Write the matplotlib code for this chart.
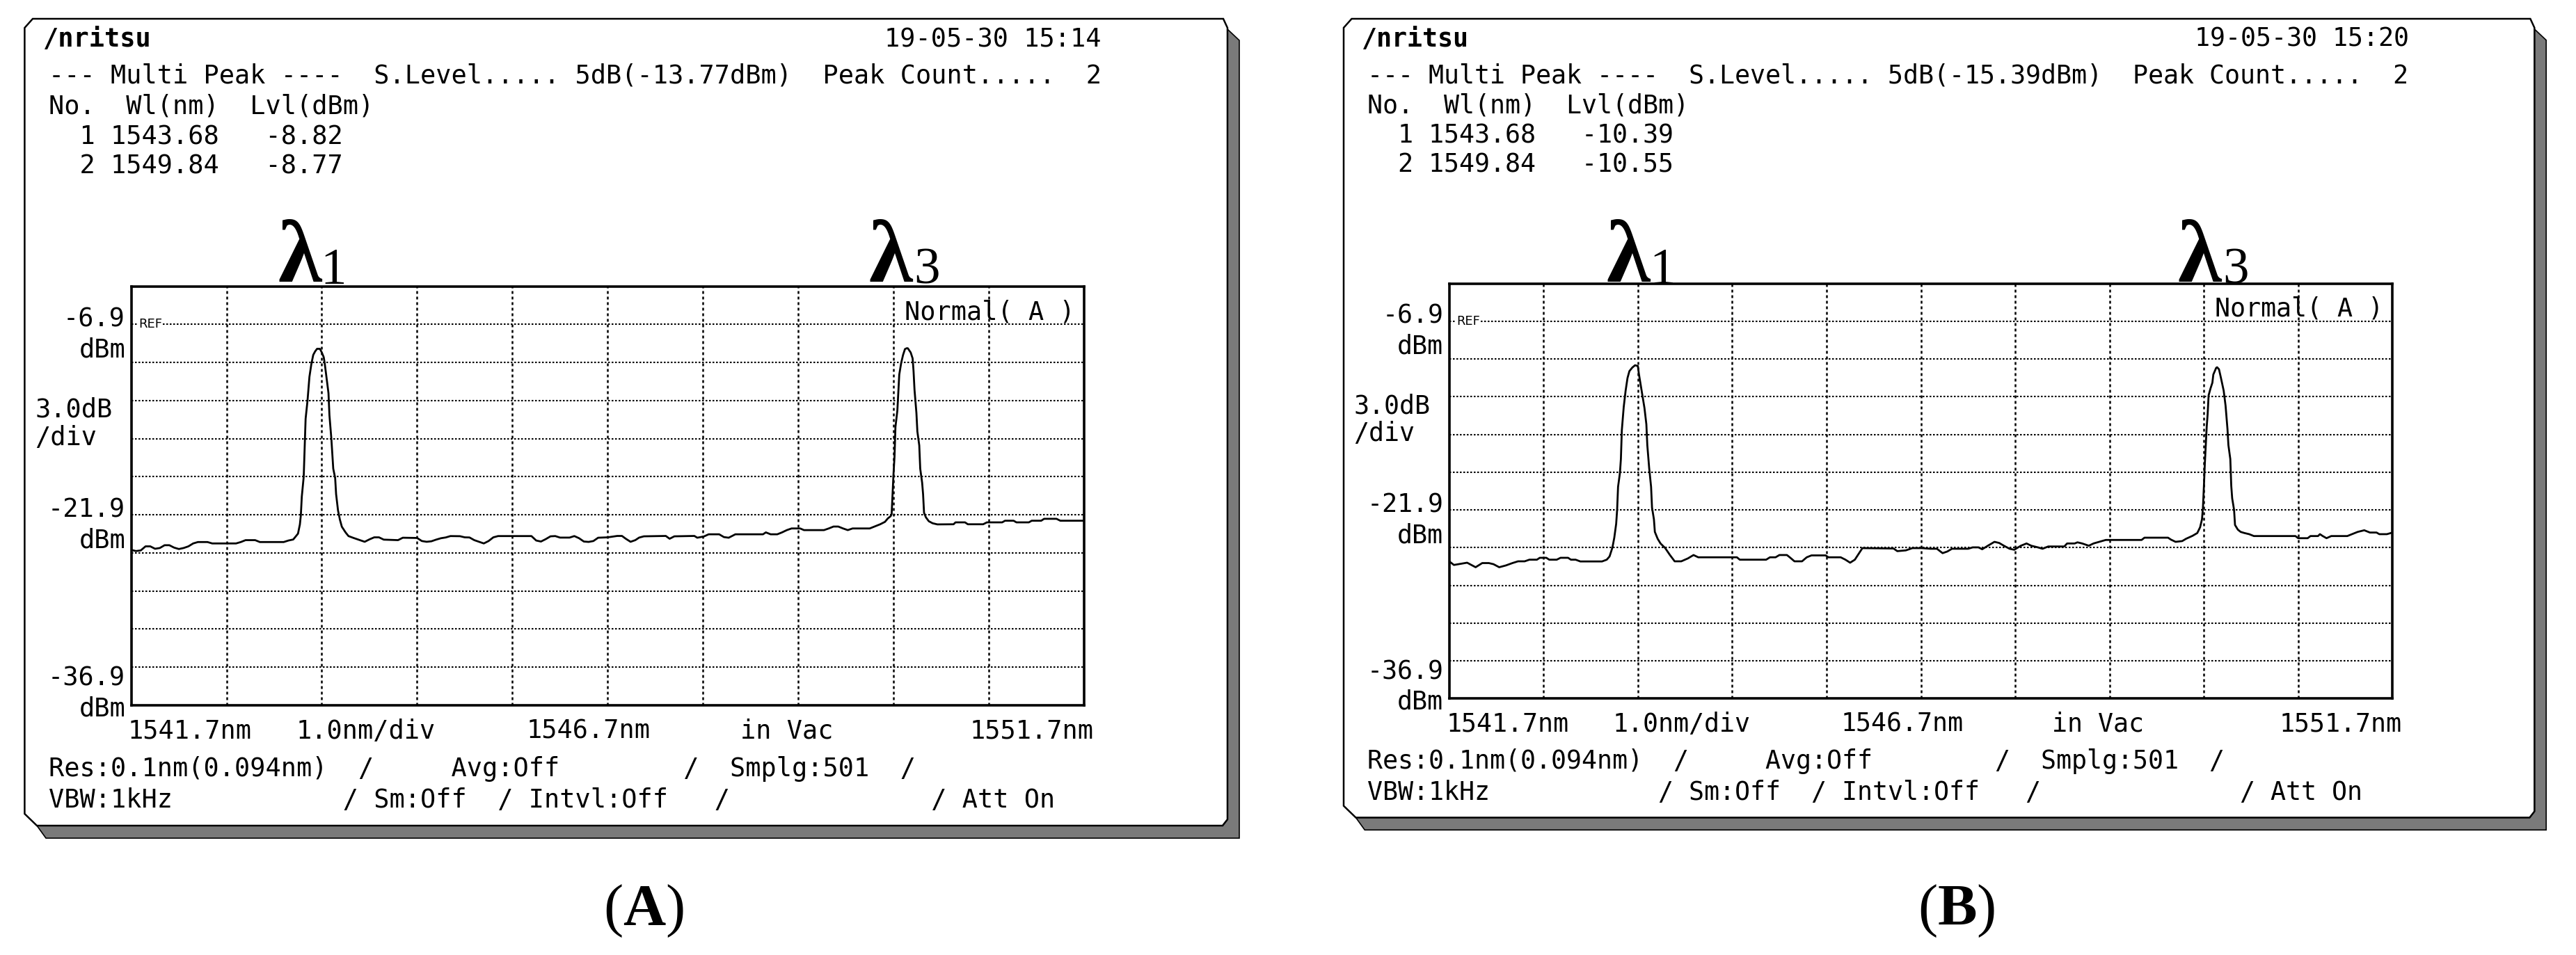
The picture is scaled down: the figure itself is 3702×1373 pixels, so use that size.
import matplotlib
matplotlib.use("Agg")
import matplotlib.pyplot as plt
from matplotlib.patches import Polygon

plt.rcParams['mathtext.fontset'] = 'custom'
plt.rcParams['mathtext.rm'] = 'Liberation Serif'
plt.rcParams['mathtext.bf'] = 'Liberation Serif:bold'

W, H, DPI = 3702, 1373, 100
MONO = 'DejaVu Sans Mono'
SERIF = 'Liberation Serif'

# ---------------- data ----------------
start_wl, stop_wl, nm_per_div = 1541.7, 1551.7, 1.0
ref_level, db_per_div, n_div = -6.9, 3.0, 10

dates = ["19-05-30 15:14", "19-05-30 15:20"]
search_levels = ["5dB(-13.77dBm)", "5dB(-15.39dBm)"]
peak_no = ["1", "2"]
peak_wl_A = ["1543.68", "1549.84"]
peak_lvl_A = ["-8.82", "-8.77"]
peak_wl_B = ["1543.68", "1549.84"]
peak_lvl_B = ["-10.39", "-10.55"]
x_labels = ["1541.7nm", "1.0nm/div", "1546.7nm", "in Vac", "1551.7nm"]
y_labels = ["-6.9", "dBm", "3.0dB", "/div", "-21.9", "dBm", "-36.9", "dBm"]
captions = ["A", "B"]

wavelength_A = [
    1541.70, 1541.75, 1541.80, 1541.85, 1541.90, 1541.95, 1542.00, 1542.05, 1542.10, 1542.15,
    1542.20, 1542.25, 1542.30, 1542.35, 1542.40, 1542.50, 1542.55, 1542.80, 1542.85, 1542.90,
    1543.00, 1543.05, 1543.30, 1543.35, 1543.40, 1543.45, 1543.47, 1543.48, 1543.49, 1543.51,
    1543.52, 1543.53, 1543.55, 1543.57, 1543.59, 1543.61, 1543.63, 1543.65, 1543.68, 1543.70,
    1543.72, 1543.73, 1543.75, 1543.77, 1543.78, 1543.80, 1543.82, 1543.84, 1543.85, 1543.87,
    1543.89, 1543.91, 1543.95, 1543.98, 1544.03, 1544.08, 1544.15, 1544.20, 1544.25, 1544.30,
    1544.35, 1544.50, 1544.55, 1544.70, 1544.75, 1544.80, 1544.85, 1544.90, 1544.95, 1545.00,
    1545.05, 1545.15, 1545.20, 1545.25, 1545.30, 1545.35, 1545.40, 1545.45, 1545.50, 1545.55,
    1545.90, 1545.95, 1546.00, 1546.05, 1546.10, 1546.15, 1546.20, 1546.30, 1546.35, 1546.40,
    1546.45, 1546.50, 1546.55, 1546.60, 1546.70, 1546.80, 1546.85, 1546.89, 1546.94, 1546.99,
    1547.03, 1547.08, 1547.31, 1547.35, 1547.40, 1547.61, 1547.64, 1547.71, 1547.76, 1547.87,
    1547.92, 1547.97, 1548.04, 1548.33, 1548.36, 1548.41, 1548.48, 1548.53, 1548.58, 1548.63,
    1548.72, 1548.76, 1548.97, 1549.02, 1549.07, 1549.12, 1549.17, 1549.22, 1549.27, 1549.45,
    1549.50, 1549.56, 1549.61, 1549.64, 1549.67, 1549.68, 1549.69, 1549.70, 1549.71, 1549.72,
    1549.74, 1549.75, 1549.76, 1549.78, 1549.80, 1549.82, 1549.84, 1549.85, 1549.88, 1549.90,
    1549.91, 1549.92, 1549.94, 1549.95, 1549.97, 1549.98, 1550.00, 1550.01, 1550.02, 1550.04,
    1550.07, 1550.11, 1550.16, 1550.33, 1550.35, 1550.45, 1550.48, 1550.64, 1550.68, 1550.84,
    1550.87, 1550.96, 1550.99, 1551.12, 1551.15, 1551.25, 1551.28, 1551.41, 1551.45, 1551.70,
]
level_A = [
    -24.66, -24.75, -24.70, -24.38, -24.38, -24.57, -24.51, -24.29, -24.29, -24.48,
    -24.59, -24.51, -24.38, -24.15, -24.04, -24.04, -24.15, -24.15, -24.04, -23.89,
    -23.89, -24.04, -24.04, -23.92, -23.84, -23.38, -22.65, -21.92, -20.46, -18.90,
    -16.61, -14.33, -12.90, -11.03, -10.03, -9.30, -9.02, -8.82, -8.82, -9.11,
    -9.48, -9.94, -11.13, -12.31, -14.05, -15.88, -18.26, -18.99, -20.27, -21.55,
    -22.28, -22.83, -23.29, -23.57, -23.71, -23.84, -24.02, -23.83, -23.67, -23.67,
    -23.85, -23.89, -23.70, -23.72, -23.96, -24.02, -23.98, -23.85, -23.74, -23.68,
    -23.57, -23.58, -23.67, -23.68, -23.89, -24.02, -24.15, -23.96, -23.67, -23.57,
    -23.57, -23.92, -24.00, -23.81, -23.59, -23.57, -23.69, -23.69, -23.57, -23.74,
    -24.00, -24.03, -23.96, -23.70, -23.67, -23.56, -23.56, -23.78, -24.02, -23.89,
    -23.69, -23.59, -23.56, -23.78, -23.59, -23.56, -23.70, -23.60, -23.43, -23.43,
    -23.65, -23.70, -23.43, -23.43, -23.28, -23.43, -23.43, -23.28, -23.10, -22.97,
    -22.97, -23.10, -23.10, -22.97, -22.82, -22.82, -22.97, -23.10, -22.97, -22.97,
    -22.82, -22.64, -22.45, -22.18, -22.00, -21.83, -20.27, -18.63, -17.35, -14.97,
    -13.69, -12.22, -10.85, -9.94, -9.30, -8.84, -8.77, -8.78, -9.11, -9.57,
    -10.58, -12.04, -13.87, -15.33, -16.43, -18.26, -19.36, -20.27, -21.73, -22.10,
    -22.40, -22.56, -22.65, -22.64, -22.49, -22.49, -22.64, -22.64, -22.49, -22.49,
    -22.36, -22.36, -22.49, -22.49, -22.36, -22.36, -22.21, -22.21, -22.36, -22.36,
]

wavelength_B = [
    1541.70, 1541.75, 1541.89, 1541.98, 1542.05, 1542.12, 1542.17, 1542.23, 1542.30, 1542.37,
    1542.43, 1542.50, 1542.55, 1542.63, 1542.66, 1542.73, 1542.76, 1542.84, 1542.88, 1542.96,
    1542.99, 1543.04, 1543.09, 1543.32, 1543.37, 1543.40, 1543.43, 1543.45, 1543.47, 1543.48,
    1543.49, 1543.51, 1543.52, 1543.53, 1543.55, 1543.57, 1543.59, 1543.61, 1543.64, 1543.67,
    1543.70, 1543.71, 1543.73, 1543.75, 1543.77, 1543.79, 1543.80, 1543.82, 1543.84, 1543.85,
    1543.87, 1543.88, 1543.91, 1543.94, 1543.99, 1544.04, 1544.09, 1544.16, 1544.23, 1544.29,
    1544.34, 1544.75, 1544.78, 1545.06, 1545.10, 1545.16, 1545.20, 1545.28, 1545.31, 1545.36,
    1545.44, 1545.49, 1545.54, 1545.69, 1545.72, 1545.85, 1545.90, 1545.95, 1546.00, 1546.08,
    1546.41, 1546.45, 1546.54, 1546.61, 1546.71, 1546.80, 1546.87, 1546.93, 1546.98, 1547.03,
    1547.20, 1547.25, 1547.31, 1547.35, 1547.41, 1547.48, 1547.53, 1547.58, 1547.64, 1547.69,
    1547.76, 1547.82, 1547.87, 1547.94, 1547.99, 1548.05, 1548.22, 1548.25, 1548.33, 1548.36,
    1548.41, 1548.48, 1548.53, 1548.59, 1548.66, 1549.04, 1549.07, 1549.32, 1549.35, 1549.40,
    1549.47, 1549.51, 1549.58, 1549.63, 1549.66, 1549.68, 1549.69, 1549.70, 1549.71, 1549.72,
    1549.73, 1549.74, 1549.75, 1549.77, 1549.79, 1549.80, 1549.83, 1549.84, 1549.86, 1549.88,
    1549.91, 1549.93, 1549.95, 1549.96, 1549.98, 1549.99, 1550.00, 1550.02, 1550.03, 1550.06,
    1550.09, 1550.13, 1550.18, 1550.23, 1550.67, 1550.70, 1550.80, 1550.83, 1550.91, 1550.93,
    1550.96, 1551.00, 1551.05, 1551.22, 1551.27, 1551.33, 1551.40, 1551.46, 1551.53, 1551.56,
    1551.64, 1551.70,
]
level_B = [
    -25.99, -26.28, -26.10, -26.46, -26.13, -26.13, -26.22, -26.46, -26.32, -26.13,
    -25.99, -25.99, -25.86, -25.86, -25.71, -25.71, -25.86, -25.86, -25.71, -25.71,
    -25.86, -25.86, -26.00, -26.00, -25.86, -25.60, -24.90, -24.11, -23.00, -21.90,
    -20.06, -18.95, -17.85, -15.55, -13.71, -12.42, -11.41, -10.86, -10.58, -10.39,
    -10.45, -11.04, -11.96, -12.88, -13.80, -15.09, -16.75, -18.59, -20.06, -21.72,
    -22.64, -23.65, -24.20, -24.57, -24.94, -25.49, -25.99, -25.99, -25.76, -25.49,
    -25.67, -25.67, -25.86, -25.86, -25.67, -25.67, -25.49, -25.49, -25.67, -25.99,
    -25.99, -25.67, -25.52, -25.52, -25.67, -25.67, -25.86, -26.10, -25.86, -24.94,
    -24.97, -25.18, -25.12, -24.94, -24.94, -24.99, -24.99, -25.34, -25.21, -24.99,
    -24.99, -24.88, -24.88, -25.03, -24.75, -24.44, -24.53, -24.75, -24.99, -25.07,
    -24.75, -24.57, -24.75, -24.88, -24.99, -24.81, -24.81, -24.57, -24.57, -24.48,
    -24.57, -24.75, -24.57, -24.44, -24.29, -24.29, -24.11, -24.11, -24.26, -24.44,
    -24.38, -24.20, -23.96, -23.74, -23.28, -22.64, -21.72, -20.06, -18.22, -16.75,
    -15.27, -14.26, -12.79, -12.24, -11.78, -11.13, -10.60, -10.55, -10.71, -11.37,
    -12.42, -13.62, -15.46, -16.75, -17.85, -19.97, -20.98, -21.90, -23.10, -23.47,
    -23.65, -23.74, -23.83, -23.98, -23.98, -24.15, -24.15, -23.98, -23.98, -23.83,
    -23.98, -24.15, -23.98, -23.98, -23.83, -23.65, -23.52, -23.70, -23.70, -23.83,
    -23.83, -23.70,
]

# ---------------- figure ----------------
fig = plt.figure(figsize=(W / DPI, H / DPI), dpi=DPI)
fig.patch.set_facecolor('white')
bg = fig.add_axes([0, 0, 1, 1])
bg.set_xlim(0, W)
bg.set_ylim(H, 0)
bg.axis('off')

COL0 = 69.6      # x of first text column (panel-A space)
PITCH = 22.24    # character pitch in px


def draw_panel(ox, s, date, slevel, pwl, plvl, wl, lvl, lam_pos, cap_x):
    fx = lambda x: ox + (x - 35.4) * s
    fy = lambda y: 27 + (y - 27) * s
    fs = 26.6 * s

    # frame shadow + frame
    shadow = [(1764, 42), (1781, 58), (1781, 1205), (66, 1205), (53, 1187),
              (1757, 1187), (1764, 1178)]
    bg.add_patch(Polygon([(fx(x), fy(y)) for x, y in shadow], closed=True,
                         facecolor='#7a7a7a', edgecolor='black', lw=1.2, zorder=1))
    frame = [(35.4, 40), (47, 27), (1758, 27), (1764, 40), (1764, 1178),
             (1757, 1187), (53, 1187), (35.4, 1170)]
    bg.add_patch(Polygon([(fx(x), fy(y)) for x, y in frame], closed=True,
                         facecolor='white', edgecolor='black', lw=1.8, zorder=2))

    def txt(col, y, t, **kw):
        bg.text(fx(COL0 + col * PITCH), fy(y), t, fontsize=fs, family=MONO,
                ha='left', va='baseline', zorder=5, **kw)

    # header
    bg.text(fx(62), fy(67), "/nritsu", fontsize=fs, family=MONO,
            fontweight='bold', ha='left', va='baseline', zorder=5)
    txt(54, 67, date)
    txt(0, 120, f"--- Multi Peak ----  S.Level..... {slevel}  Peak Count.....  {len(pwl)}")
    txt(0, 164, "No.  Wl(nm)  Lvl(dBm)")
    for i, (n, w, l) in enumerate(zip(peak_no, pwl, plvl)):
        txt(0, 207 + 43 * i, f"  {n} {w}   {l}")

    # footer
    txt(0, 1116, "Res:0.1nm(0.094nm)" + "  /" + " " * 5 + "Avg:Off" + " " * 8 + "/"
        + "  " + "Smplg:501" + "  /")
    txt(0, 1161, "VBW:1kHz" + " " * 11 + "/ Sm:Off  / Intvl:Off   /" + " " * 13 + "/ Att On")

    # x labels
    for xpos, lab in zip([184, 426, 757, 1064, 1394], x_labels):
        bg.text(fx(xpos), fy(1062), lab, fontsize=fs, family=MONO,
                ha='left', va='baseline', zorder=5)
    # y labels
    ypos = [469, 513, 600, 640, 744, 788, 986, 1030]
    for yy, lab in zip(ypos, y_labels):
        if lab in ("3.0dB", "/div"):
            bg.text(fx(50), fy(yy), lab, fontsize=fs, family=MONO,
                    ha='left', va='baseline', zorder=5)
        else:
            bg.text(fx(180), fy(yy), lab, fontsize=fs, family=MONO,
                    ha='right', va='baseline', zorder=5)

    # data axes
    L, R, T, B = fx(188.6), fx(1558), fy(411.7), fy(1014)
    ax = fig.add_axes([L / W, 1 - B / H, (R - L) / W, (B - T) / H])
    ax.set_zorder(3)
    ax.set_xlim(start_wl, stop_wl)
    ax.set_ylim(ref_level - n_div * db_per_div, ref_level + db_per_div)
    ax.set_xticks([start_wl + k * nm_per_div for k in range(1, 10)])
    ax.set_yticks([ref_level - k * db_per_div for k in range(0, n_div)])
    ax.tick_params(length=0, labelbottom=False, labelleft=False)
    ax.grid(axis='y', color='black', lw=1.5, ls=(0, (1.2, 1.2)))
    ax.grid(axis='x', color='black', lw=1.8, ls=(0, (1.6, 1.6)))
    for sp in ax.spines.values():
        sp.set_linewidth(2.6)
    ax.plot(wl, lvl, color='black', lw=2.0, zorder=4)

    ax.text(fx(199), fy(471), "REF", fontsize=13 * s, family='DejaVu Sans',
            ha='left', va='baseline', transform=bg.transData, zorder=6,
            bbox=dict(facecolor='white', edgecolor='none', pad=1))
    ax.text(fx(1300), fy(459), "Normal( A )", fontsize=fs, family=MONO,
            ha='left', va='baseline', transform=bg.transData, zorder=6)

    # lambda labels (figure pixel coords)
    for (lx, sx, sub) in lam_pos:
        bg.text(lx, 404, "λ", fontsize=92, family=SERIF, fontweight='bold',
                ha='left', va='baseline', zorder=6)
        bg.text(sx, 408, sub, fontsize=54, family=SERIF, ha='left',
                va='baseline', zorder=6)


draw_panel(35.4, 1.0, dates[0], search_levels[0], peak_wl_A, peak_lvl_A,
           wavelength_A, level_A, [(399, 460, "1"), (1248, 1313, "3")], 925)
draw_panel(1931, 0.99, dates[1], search_levels[1], peak_wl_B, peak_lvl_B,
           wavelength_B, level_B, [(2308, 2370, "1"), (3129, 3194, "3")], 2812)

for cx, c in zip([925, 2812], captions):
    bg.text(cx, 1330, "(" + r"$\mathbf{" + c + "}$" + ")", fontsize=61,
            family=SERIF, ha='center', va='baseline')

fig.savefig("out.png", dpi=DPI, facecolor='white')
